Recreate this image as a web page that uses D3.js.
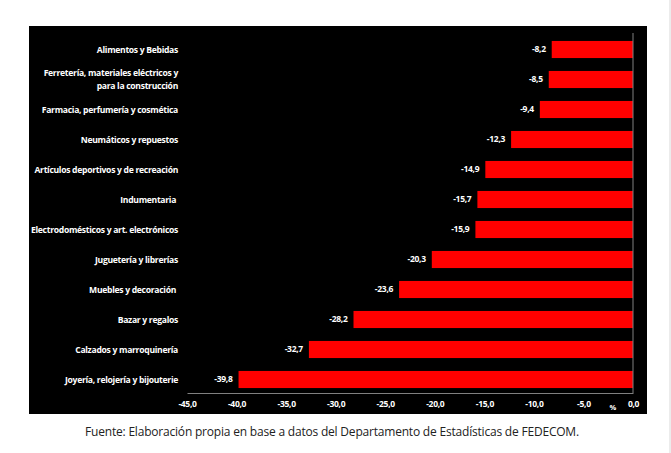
<!DOCTYPE html>
<html>
<head>
<meta charset="utf-8">
<script src="https://cdn.jsdelivr.net/npm/d3@7"></script>
<style>
  body { margin: 0; background: #fff; }
  svg text { white-space: pre; }
</style>
</head>
<body>
<svg id="chart"></svg>
<script>
const categories = [
  ["Alimentos y Bebidas"],
  ["Ferretería, materiales eléctricos y", "para la construcción"],
  ["Farmacia, perfumería y cosmética"],
  ["Neumáticos y repuestos"],
  ["Artículos deportivos y de recreación"],
  ["Indumentaria "],
  ["Electrodomésticos y art. electrónicos"],
  ["Juguetería y librerías"],
  ["Muebles y decoración "],
  ["Bazar y regalos"],
  ["Calzados y marroquinería"],
  ["Joyería, relojería y bijouterie"]
];
const values = [-8.2, -8.5, -9.4, -12.3, -14.9, -15.7, -15.9, -20.3, -23.6, -28.2, -32.7, -39.8];
const ticks = [-45, -40, -35, -30, -25, -20, -15, -10, -5, 0];
const source = "Fuente: Elaboración propia en base a datos del Departamento de Estadísticas de FEDECOM.";

const width = 671,
  height = 453;

const fmt = v => d3.format(".1f")(v).replace("−", "-").replace(".", ",");

const svg = d3.select("#chart")
  .attr("width", width)
  .attr("height", height);

// black panel
svg.append("rect")
  .attr("x", 29).attr("y", 26)
  .attr("width", 618).attr("height", 388)
  .attr("fill", "#000");

// thin page border at right
svg.append("line")
  .attr("x1", 670).attr("x2", 670)
  .attr("y1", 0).attr("y2", height)
  .attr("stroke", "#d9d9d9");

const x = d3.scaleLinear()
  .domain([-45, 0])
  .range([187, 633]);

const idx = d3.range(values.length);
const y = d3.scaleBand()
  .domain(idx)
  .range([34.5, 394.5])
  .paddingInner(0.43)
  .paddingOuter(0.215);

// bars
svg.append("g")
  .selectAll("rect")
  .data(idx)
  .join("rect")
  .attr("x", i => x(values[i]))
  .attr("y", i => y(i))
  .attr("width", i => x(0) - x(values[i]))
  .attr("height", y.bandwidth())
  .attr("fill", "#ff0000");

// value labels
svg.append("g")
  .selectAll("text")
  .data(idx)
  .join("text")
  .attr("x", i => x(values[i]) - 6)
  .attr("y", i => y(i) + y.bandwidth() / 2)
  .attr("dy", "0.35em")
  .attr("text-anchor", "end")
  .attr("fill", "#fff")
  .attr("font-family", "'Open Sans', sans-serif")
  .attr("font-weight", "bold")
  .attr("font-size", 8.5)
  .attr("letter-spacing", -0.3)
  .text(i => fmt(values[i]));

// category labels
const cat = svg.append("g")
  .selectAll("text")
  .data(idx)
  .join("text")
  .attr("text-anchor", "end")
  .attr("fill", "#fff")
  .attr("font-family", "'Open Sans', sans-serif")
  .attr("font-weight", "bold")
  .attr("font-size", 8.6)
  .attr("letter-spacing", -0.3)
  .attr("y", i => y(i) + y.bandwidth() / 2);

cat.selectAll("tspan")
  .data(i => categories[i].map((t, k, a) => ({ t, k, n: a.length })))
  .join("tspan")
  .attr("x", 178)
  .attr("dy", d => d.n === 1 ? "0.35em" : (d.k === 0 ? "-0.4em" : "1.45em"))
  .text(d => d.t);

// zero line
svg.append("line")
  .attr("x1", x(0)).attr("x2", x(0))
  .attr("y1", 33).attr("y2", 393)
  .attr("stroke", "#808080");

// x axis
const axis = svg.append("g")
  .attr("transform", "translate(0,393)")
  .call(d3.axisBottom(x).tickValues(ticks).tickSize(0).tickPadding(8).tickFormat(fmt));

axis.select(".domain").attr("stroke", "#808080");
axis.selectAll("text")
  .attr("fill", "#fff")
  .attr("font-family", "'Open Sans', sans-serif")
  .attr("font-weight", "bold")
  .attr("font-size", 8.5)
  .attr("letter-spacing", -0.3);

svg.append("text")
  .attr("x", 613).attr("y", 410)
  .attr("text-anchor", "middle")
  .attr("fill", "#fff")
  .attr("font-family", "'Open Sans', sans-serif")
  .attr("font-weight", "bold")
  .attr("font-size", 7.5)
  .text("%");

// source
svg.append("text")
  .attr("x", 332).attr("y", 436)
  .attr("text-anchor", "middle")
  .attr("fill", "#222")
  .attr("font-family", "'Open Sans', sans-serif")
  .attr("font-size", 12)
  .attr("letter-spacing", -0.2)
  .text(source);
</script>
</body>
</html>
